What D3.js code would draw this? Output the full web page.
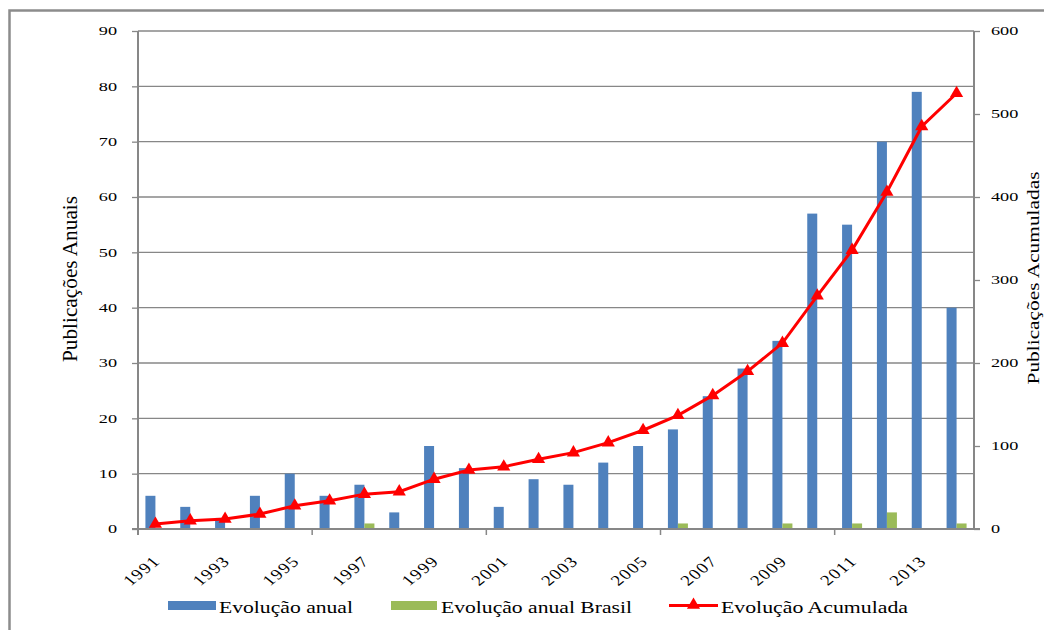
<!DOCTYPE html>
<html><head><meta charset="utf-8">
<script src="https://cdn.jsdelivr.net/npm/d3@7"></script>
<style>
body{margin:0;background:#fff}
svg{display:block}
text{font-family:"Liberation Serif","Times New Roman",serif;fill:#000}
</style></head>
<body><svg id="chart" width="1044" height="630"></svg>
<script>
const years = [1991,1992,1993,1994,1995,1996,1997,1998,1999,2000,2001,2002,2003,2004,2005,2006,2007,2008,2009,2010,2011,2012,2013,2014];
const annual = [6,4,2,6,10,6,8,3,15,11,4,9,8,12,15,18,24,29,34,57,55,70,79,40];
const brasil = [0,0,0,0,0,0,1,0,0,0,0,0,0,0,0,1,0,0,1,0,1,3,0,1];
const accumulated = [6,10,12,18,28,34,42,45,60,71,75,84,92,104,119,137,161,190,224,281,336,406,485,525];
const leftTicks = [0,10,20,30,40,50,60,70,80,90];
const rightTicks = [0,100,200,300,400,500,600];
const xLabelYears = [1991,1993,1995,1997,1999,2001,2003,2005,2007,2009,2011,2013];
const xMajorTickYears = [1991,1996,2001,2006,2011];
const seriesNames = ["Evolução anual","Evolução anual Brasil","Evolução Acumulada"];
const leftTitle = "Publicações Anuais";
const rightTitle = "Publicações Acumuladas";

const L = 138, R = 974, T = 31, B = 529;
const SX = 1.35;
const blue = "#4f81bd", green = "#9bbb59", red = "#ff0000", gridC = "#878787";

const svg = d3.select("#chart");

// outer frame
svg.append("rect").attr("x",9.5).attr("y",10.5).attr("width",1100).attr("height",700)
  .attr("fill","none").attr("stroke","#8c8c8c").attr("stroke-width",2.5);

const x = d3.scaleBand().domain(years).range([L,R]).padding(0);
const bw = x.bandwidth();
const barW = 10;
const yL = d3.scaleLinear().domain([0,90]).range([B,T]);
const yR = d3.scaleLinear().domain([0,600]).range([B,T]);
const cx = y => x(y) + bw/2;

// gridlines
svg.append("g").selectAll("line").data(leftTicks.filter(d=>d>0)).join("line")
  .attr("x1",L).attr("x2",R).attr("y1",d=>yL(d)).attr("y2",d=>yL(d))
  .attr("stroke",gridC).attr("stroke-width",1.3);

// left axis
const gL = svg.append("g").attr("transform",`translate(${L},0)`)
  .call(d3.axisLeft(yL).tickValues(leftTicks).tickSize(6).tickFormat(d3.format("d")));
gL.select(".domain").remove();
gL.selectAll(".tick line").attr("stroke",gridC).attr("stroke-width",1.3);
gL.selectAll(".tick text").attr("x",0).attr("dy","0.28em")
  .attr("transform",`translate(-21,0) scale(${SX},1)`)
  .style("font-size","13.5px").attr("font-family",null).attr("fill","#000");
svg.append("line").attr("x1",L).attr("x2",L).attr("y1",T).attr("y2",B+6)
  .attr("stroke",gridC).attr("stroke-width",2);

// right axis
const gR = svg.append("g").attr("transform",`translate(${R},0)`)
  .call(d3.axisRight(yR).tickValues(rightTicks).tickSize(6).tickFormat(d3.format("d")));
gR.select(".domain").remove();
gR.selectAll(".tick line").attr("stroke",gridC).attr("stroke-width",1.3);
gR.selectAll(".tick text").attr("x",0).attr("dy","0.28em").attr("text-anchor","start")
  .attr("transform",`translate(17,0) scale(${SX},1)`)
  .style("font-size","13.5px").attr("font-family",null).attr("fill","#000");
svg.append("line").attr("x1",R).attr("x2",R).attr("y1",T).attr("y2",B)
  .attr("stroke",gridC).attr("stroke-width",2);

// bars
svg.append("g").selectAll("rect").data(years).join("rect")
  .attr("x",(d)=>cx(d)-barW).attr("width",barW)
  .attr("y",(d,i)=>yL(annual[i])).attr("height",(d,i)=>B-yL(annual[i]))
  .attr("fill",blue);
svg.append("g").selectAll("rect").data(years).join("rect")
  .attr("x",(d)=>cx(d)).attr("width",barW)
  .attr("y",(d,i)=>yL(brasil[i])).attr("height",(d,i)=>B-yL(brasil[i]))
  .attr("fill",green);

// bottom axis line and ticks
svg.append("line").attr("x1",L-6).attr("x2",R+6).attr("y1",B).attr("y2",B)
  .attr("stroke",gridC).attr("stroke-width",2);
svg.append("g").selectAll("line").data(xMajorTickYears).join("line")
  .attr("x1",d=>x(d)).attr("x2",d=>x(d)).attr("y1",B).attr("y2",B+6)
  .attr("stroke",gridC).attr("stroke-width",1.5);

// x labels
svg.append("g").selectAll("text").data(xLabelYears).join("text")
  .attr("transform",d=>`translate(${cx(d)+6},${B+33}) scale(1.25,1) rotate(-45)`)
  .attr("text-anchor","end").style("font-size","15px").style("letter-spacing","1.2px")
  .text(d=>d);

// accumulated line
const line = d3.line().x((d,i)=>cx(years[i])).y(d=>yR(d));
svg.append("path").datum(accumulated).attr("d",line)
  .attr("fill","none").attr("stroke",red).attr("stroke-width",3);
const tri = d3.symbol().type(d3.symbolTriangle).size(75);
svg.append("g").selectAll("path").data(accumulated).join("path")
  .attr("d",tri).attr("transform",(d,i)=>`translate(${cx(years[i])},${yR(d)})`)
  .attr("fill",red);

// axis titles
svg.append("text").attr("transform",`translate(77,279) scale(${SX},1) rotate(-90)`)
  .attr("text-anchor","middle").style("font-size","16px")
  .attr("textLength",166).attr("lengthAdjust","spacingAndGlyphs").text(leftTitle);
svg.append("text").attr("transform",`translate(1039,278) scale(1.2,1) rotate(-90)`)
  .attr("text-anchor","middle").style("font-size","14px")
  .attr("textLength",213).attr("lengthAdjust","spacingAndGlyphs").text(rightTitle);

// legend
const lg = svg.append("g");
lg.append("rect").attr("x",168).attr("y",601).attr("width",48).attr("height",9).attr("fill",blue);
lg.append("rect").attr("x",391).attr("y",601).attr("width",46).attr("height",9).attr("fill",green);
lg.append("line").attr("x1",669).attr("x2",718).attr("y1",605.5).attr("y2",605.5)
  .attr("stroke",red).attr("stroke-width",3);
lg.append("path").attr("d",tri).attr("transform","translate(693.5,605)").attr("fill",red);
const legendPos = [[219,134],[441,191],[721,187]];
seriesNames.forEach((n,i)=>{
  lg.append("text").attr("transform",`translate(${legendPos[i][0]},612.5) scale(${SX},1)`)
    .style("font-size","16px").attr("textLength",legendPos[i][1]/SX)
    .attr("lengthAdjust","spacingAndGlyphs").text(n);
});
</script>
</body></html>
